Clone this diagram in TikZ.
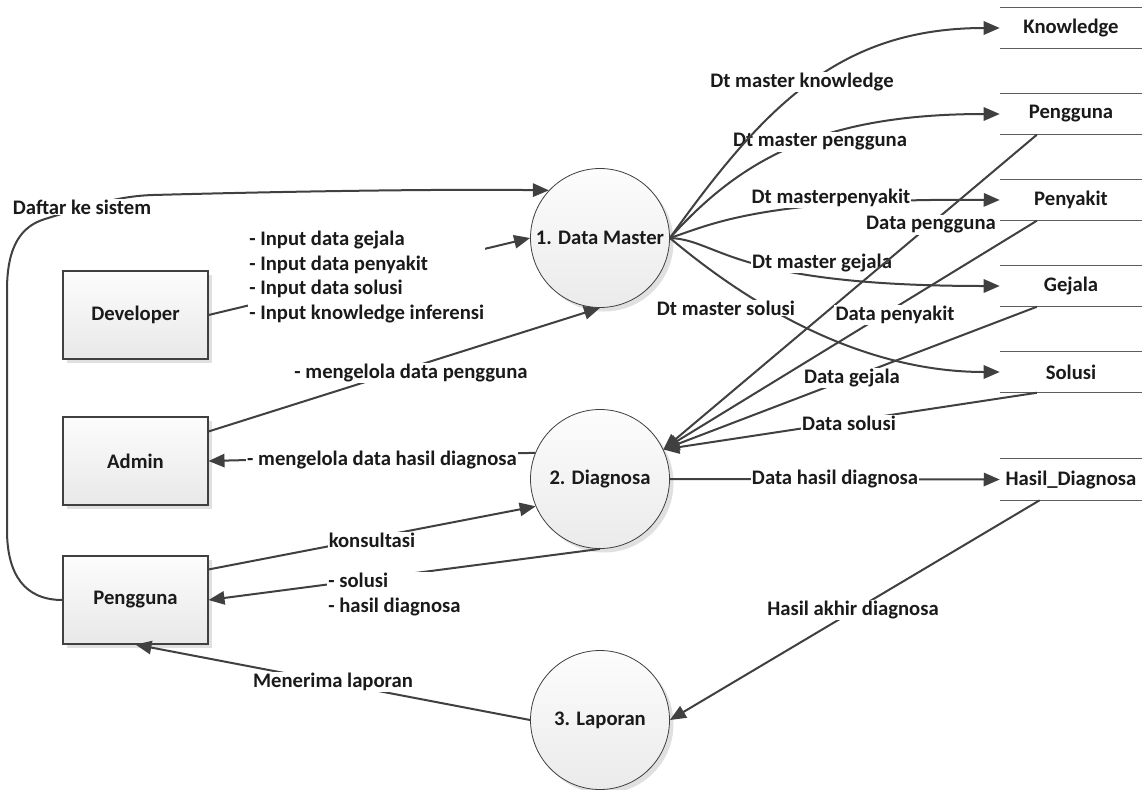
\documentclass[tikz,border=0pt]{standalone}
\usepackage{fontspec}
\setmainfont{Carlito}
\usetikzlibrary{arrows.meta,shadows,calc}
\definecolor{ln}{HTML}{404040}
\definecolor{tx}{HTML}{1A1A1A}
\begin{document}
\begin{tikzpicture}[x=0.75pt,y=-0.75pt,
  font=\fontsize{15.5}{18.5}\selectfont\bfseries,
  shade/.style={drop shadow={shadow xshift=3pt,shadow yshift=-3pt,fill=black!12,opacity=1}},
  ent/.style={draw=ln,line width=0.8pt,top color=black!1,bottom color=black!9,
    minimum width=108.75pt,minimum height=66pt,inner sep=0pt,text=tx,shade},
  proc/.style={circle,draw=ln,line width=0.6pt,top color=black!1,bottom color=black!8,
    minimum size=104.25pt,inner sep=0pt,text=tx,shade},
  store/.style={minimum width=106.5pt,minimum height=30.75pt,inner sep=0pt,text=tx},
  storeline/.style={draw=ln!85,line width=0.8pt},
  flow/.style={draw=ln,line width=1.5pt},
  arr/.style={flow,-{Triangle[length=12pt,width=10pt]}},
  lbl/.style={fill=white,inner sep=0.8pt,text=tx},
]
\fill[white] (0,0) rectangle (1148,789);
\useasboundingbox (0,0) rectangle (1148,789);

% external entities
\node[ent] (dev)  at (135.5,315) {Developer};
\node[ent] (adm)  at (135.5,461) {Admin};
\node[ent] (peng) at (135.5,600) {Pengguna};

% processes
\node[proc] (dm)   at (600,238) {1. Data Master};
\node[proc] (diag) at (600,479) {2. Diagnosa};
\node[proc] (lap)  at (600,720) {3. Laporan};

% data stores
\node[store] (ks)  at (1071,28)    {Knowledge};
\node[store] (ps)  at (1071,114)   {Pengguna};
\node[store] (pys) at (1071,200)   {Penyakit};
\node[store] (gs)  at (1071,286)   {Gejala};
\node[store] (ss)  at (1071,372)   {Solusi};
\node[store] (hd)  at (1071,479.5) {Hasil\_Diagnosa};
\foreach \s in {ks,ps,pys,gs,ss,hd}
  \draw[storeline] (\s.north west) -- (\s.north east) (\s.south west) -- (\s.south east);

% registration loop from Pengguna to Data Master
\draw[arr] (peng.west) .. controls (25,600) and (7,575) .. (7,530) -- (7,290)
  .. controls (7,245) and (22,226) .. (45,219)
  .. controls (90,205) and (120,196) .. (153,195)
  .. controls (300,191) and (450,189) .. (dm.137);
\node[lbl] (lDaftar) at (82,207) {Daftar ke sistem};

% Developer -> Data Master
\draw[arr] (dev.east) -- (dm.west);
\node[lbl,align=left,anchor=west,font=\fontsize{15.5}{18.3}\selectfont\bfseries] (lDev) at (248,277)
  {- Input data gejala\\- Input data penyakit\\- Input data solusi\\- Input knowledge inferensi};

% Admin <-> processes
\draw[arr] ($(adm.north east)+(0,15)$) -- (dm.south);
\node[lbl] (lAdm1) at (411,373) {- mengelola data pengguna};
\draw[arr] (diag.158) -- (adm.east);
\node[lbl] (lAdm2) at (382,460) {- mengelola data hasil diagnosa};

% Pengguna <-> processes
\draw[arr] ($(peng.north east)+(0,14)$) -- (diag.203);
\node[lbl] (lKons) at (372,540) {konsultasi};
\draw[arr] (diag.south) -- (peng.east);
\node[lbl,align=left,anchor=west] (lSol) at (327,594.5) {- solusi\\- hasil diagnosa};
\draw[arr] (lap.west) -- (peng.south);
\node[lbl] (lMen) at (333,682) {Menerima laporan};

% Data Master -> stores
\draw[arr] (dm.east) .. controls (740,160) and (820,114) .. (ps.west);
\node[lbl] (lDmP) at (820,142) {Dt master pengguna};
\draw[arr] (dm.east) .. controls (765,105) and (840,28) .. (ks.west);
\node[lbl] (lDmK) at (802,82) {Dt master knowledge};
\draw[arr] (dm.east) .. controls (710,225) and (760,198) .. (pys.west);
\node[lbl] (lDmPy) at (831,198) {Dt masterpenyakit};
\draw[arr] (dm.east) .. controls (720,240) and (730,286) .. (gs.west);
\node[lbl] (lDmG) at (822,263) {Dt master gejala};
\draw[arr] (dm.east) .. controls (720,280) and (840,372) .. (ss.west);
\node[lbl] (lDmS) at (726,308) {Dt master solusi};

% stores -> Diagnosa
\draw[arr] ($(ps.south west)!0.26!(ps.south east)$) -- (diag.25);
\node[lbl] (lDP) at (931,225) {Data pengguna};
\draw[arr] ($(pys.south west)!0.26!(pys.south east)$) -- (diag.25);
\node[lbl] (lDPy) at (895,315) {Data penyakit};
\draw[arr] ($(gs.south west)!0.26!(gs.south east)$) -- (diag.25);
\node[lbl] (lDG) at (852,378) {Data gejala};
\draw[arr] ($(ss.south west)!0.26!(ss.south east)$) -- (diag.25);
\node[lbl] (lDS) at (849,423) {Data solusi};

% Diagnosa -> Hasil_Diagnosa -> Laporan
\draw[arr] (diag.east) -- (hd.west);
\node[lbl] (lDH) at (835,479) {Data hasil diagnosa};
\draw[arr] ($(hd.south west)!0.28!(hd.south east)$) -- (lap.east);
\node[lbl] (lHA) at (853,610) {Hasil akhir diagnosa};
\end{tikzpicture}
\end{document}
